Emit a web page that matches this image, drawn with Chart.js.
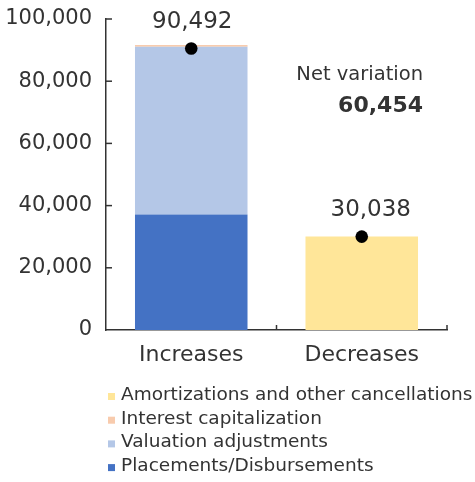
<!DOCTYPE html>
<html>
<head>
<meta charset="utf-8">
<script src="https://cdn.jsdelivr.net/npm/chart.js@4.4.1/dist/chart.umd.min.js"></script>
<style>
  html, body { margin: 0; padding: 0; background: #ffffff; }
  #wrap { position: relative; width: 475px; height: 482px; }
</style>
</head>
<body>
<div id="wrap"><canvas id="chart" width="475" height="482"></canvas></div>
<script>
// Portfolio movements: increases vs decreases (stacked components)
const categories = ['Increases', 'Decreases'];
const placements = [37100, null];
const valuationAdjustments = [54000, null];
const interestCapitalization = [550, null];
const amortizations = [null, 30038];
const totals = [90492, 30038];
const yTickValues = [0, 20000, 40000, 60000, 80000, 100000];

const FONT = '"DejaVu Sans", sans-serif';
const TEXT = '#333333';
const AXIS = '#333333';

const fmt = v => v.toLocaleString('en-US');
const netVariation = totals[0] - totals[1];

// Inward tick marks, value labels, net variation note and the legend
const decorations = {
  id: 'decorations',
  afterDatasetsDraw(chart) {
    const { ctx, chartArea, scales } = chart;
    const x = scales.x, y = scales.y;
    ctx.save();
    ctx.strokeStyle = AXIS;
    ctx.lineWidth = 1.5;
    // y ticks pointing into the plot
    yTickValues.forEach(v => {
      if (v === 0) return;
      const py = y.getPixelForValue(v);
      ctx.beginPath();
      ctx.moveTo(chartArea.left, py);
      ctx.lineTo(chartArea.left + 6, py);
      ctx.stroke();
    });
    // x ticks at category boundaries
    const step = x.getPixelForValue(1) - x.getPixelForValue(0);
    for (let i = 0; i < categories.length; i++) {
      const px = x.getPixelForValue(i) + step / 2;
      ctx.beginPath();
      ctx.moveTo(px, chartArea.bottom);
      ctx.lineTo(px, chartArea.bottom - 5);
      ctx.stroke();
    }

    // total labels above the dots
    const labelShiftX = [1, 9];
    ctx.fillStyle = TEXT;
    ctx.font = '400 23px ' + FONT;
    ctx.textAlign = 'center';
    ctx.textBaseline = 'alphabetic';
    totals.forEach((t, i) => {
      const px = x.getPixelForValue(i) + labelShiftX[i];
      const py = y.getPixelForValue(t);
      ctx.fillText(fmt(t), px, py - 21);
    });

    // net variation note
    ctx.textAlign = 'right';
    ctx.font = '400 19.5px ' + FONT;
    ctx.fillText('Net variation', 423, 80);
    ctx.font = '700 22px ' + FONT;
    ctx.fillText(fmt(netVariation), 423, 112);

    // legend (top of the stack listed first)
    const items = chart.data.datasets.filter(d => d.type !== 'line').slice().reverse();
    ctx.textAlign = 'left';
    ctx.font = '400 18.5px ' + FONT;
    items.forEach((d, k) => {
      const base = 400 + k * 23.7;
      ctx.fillStyle = d.backgroundColor;
      ctx.fillRect(108, base - 7, 7, 7);
      ctx.fillStyle = TEXT;
      ctx.fillText(d.label, 121, base);
    });
    ctx.restore();
  }
};

new Chart(document.getElementById('chart'), {
  type: 'bar',
  data: {
    labels: categories,
    datasets: [
      { type: 'line', label: 'Total', data: totals, showLine: false, stack: 'totals',
        pointRadius: 6.3, pointHoverRadius: 6.3, pointBackgroundColor: '#000000',
        pointBorderWidth: 0, borderColor: '#000000', order: 0 },
      { label: 'Placements/Disbursements', data: placements, backgroundColor: '#4472C4', stack: 's', order: 1 },
      { label: 'Valuation adjustments', data: valuationAdjustments, backgroundColor: '#B4C7E7', stack: 's', order: 1 },
      { label: 'Interest capitalization', data: interestCapitalization, backgroundColor: '#F8CBAD', stack: 's', order: 1 },
      { label: 'Amortizations and other cancellations', data: amortizations, backgroundColor: '#FFE699', stack: 's', order: 1 }
    ]
  },
  options: {
    responsive: false,
    animation: false,
    layout: { padding: { top: 19, right: 28, left: 0, bottom: 0 } },
    plugins: { legend: { display: false }, tooltip: { enabled: false } },
    datasets: { bar: { barPercentage: 0.66, categoryPercentage: 1, borderWidth: 0 } },
    scales: {
      x: {
        stacked: true,
        grid: { display: false, drawTicks: false },
        border: { display: true, color: AXIS, width: 1.5 },
        ticks: { color: TEXT, font: { family: FONT, size: 22 }, padding: 12 },
        afterFit(scale) { scale.height = 152; scale.paddingLeft = 0; scale.paddingRight = 0; }
      },
      y: {
        stacked: true,
        min: 0,
        max: 100000,
        afterBuildTicks(scale) { scale.ticks = yTickValues.map(v => ({ value: v })); },
        grid: { display: false, drawTicks: false },
        border: { display: true, color: AXIS, width: 1.5 },
        ticks: { color: TEXT, font: { family: FONT, size: 21 }, padding: 14, callback: v => fmt(v) },
        afterFit(scale) { scale.width = 106; scale.paddingTop = 0; scale.paddingBottom = 0; }
      }
    }
  },
  plugins: [decorations]
});
</script>
</body>
</html>
